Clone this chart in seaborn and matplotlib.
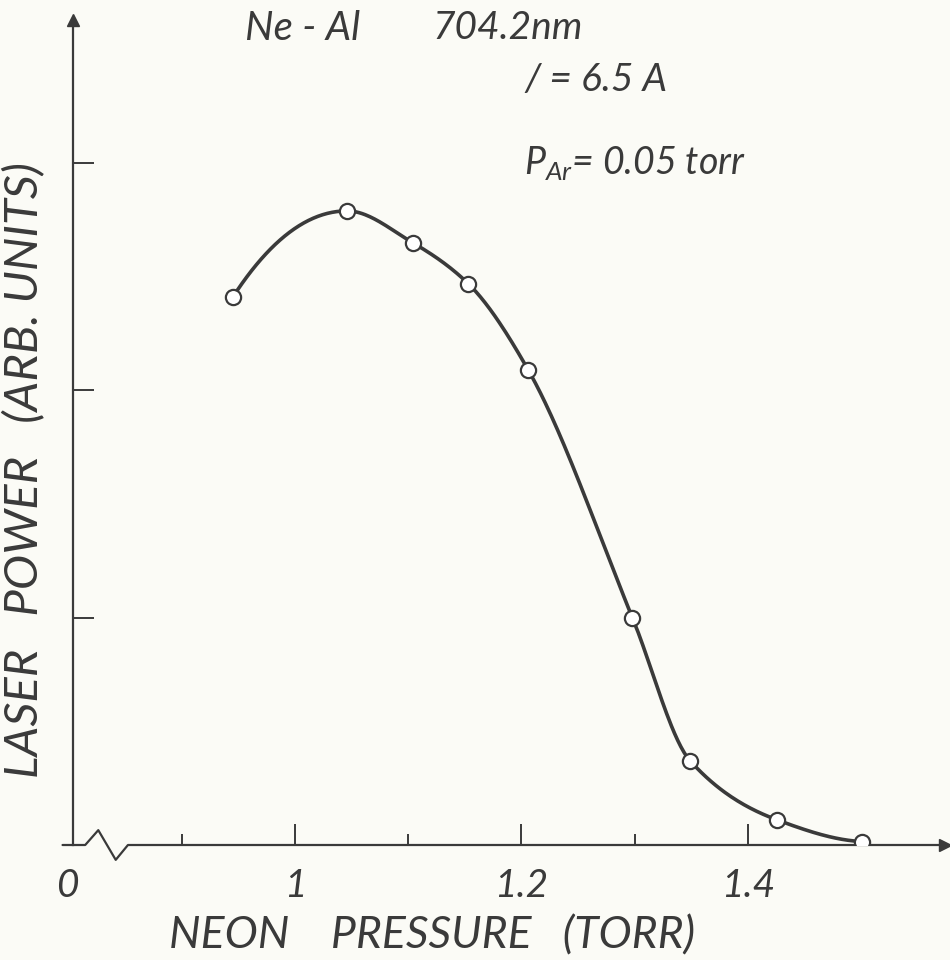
import matplotlib
matplotlib.use("Agg")
import matplotlib.pyplot as plt
import numpy as np
import seaborn as sns

# measured points (neon pressure in torr, laser power in arb. units)
PRESSURE = [0.945, 1.046, 1.104, 1.153, 1.206, 1.298, 1.349, 1.426, 1.501]
POWER    = [2.41, 2.79, 2.65, 2.47, 2.09, 1.00, 0.37, 0.11, 0.015]

XTICKS_MAJOR = [1.0, 1.2, 1.4]
XTICKS_MINOR = [0.9, 1.1, 1.3]
YTICKS       = [1, 2, 3]

INK   = "#3a3a3a"
PAPER = "#fbfbf6"

sns.set_style("white")
plt.rcParams["font.family"] = ["Lato", "DejaVu Sans"]
plt.rcParams["mathtext.fontset"] = "custom"
plt.rcParams["mathtext.it"] = "Lato:italic"
plt.rcParams["mathtext.rm"] = "Lato"


def _end_slope(h0, h1, d0, d1):
    s = ((2 * h0 + h1) * d0 - h0 * d1) / (h0 + h1)
    if np.sign(s) != np.sign(d0):
        return 0.0
    if np.sign(d0) != np.sign(d1) and abs(s) > abs(3 * d0):
        return 3 * d0
    return s


def pchip(x, y, xs):
    # shape-preserving smooth curve through the measured points
    x = np.asarray(x, float)
    y = np.asarray(y, float)
    h = np.diff(x)
    d = np.diff(y) / h
    n = len(x)
    m = np.zeros(n)
    for k in range(1, n - 1):
        if d[k - 1] * d[k] <= 0:
            m[k] = 0.0
        else:
            w1 = 2 * h[k] + h[k - 1]
            w2 = h[k] + 2 * h[k - 1]
            m[k] = (w1 + w2) / (w1 / d[k - 1] + w2 / d[k])
    m[0] = _end_slope(h[0], h[1], d[0], d[1])
    m[-1] = _end_slope(h[-1], h[-2], d[-1], d[-2])
    k = np.clip(np.searchsorted(x, xs) - 1, 0, n - 2)
    t = (xs - x[k]) / h[k]
    h00 = 2 * t**3 - 3 * t**2 + 1
    h10 = t**3 - 2 * t**2 + t
    h01 = -2 * t**3 + 3 * t**2
    h11 = t**3 - t**2
    return h00 * y[k] + h10 * h[k] * m[k] + h01 * y[k + 1] + h11 * h[k] * m[k + 1]


xs = np.linspace(PRESSURE[0], PRESSURE[-1], 400)
ys = pchip(PRESSURE, POWER, xs)

fig = plt.figure(figsize=(9.5, 9.6), dpi=100, facecolor=PAPER)
ax = fig.add_axes([73 / 950, 115 / 960, 872 / 950, 825 / 960])
ax.set_facecolor(PAPER)

sns.lineplot(x=xs, y=ys, ax=ax, color=INK, linewidth=2.6, sort=False)
sns.scatterplot(x=PRESSURE, y=POWER, ax=ax, s=120, marker="o",
                facecolor="white", edgecolor=INK, linewidth=1.6, zorder=5)

ax.set_xlim(0.804, 1.574)
ax.set_ylim(0, 3.63)

for s in ["top", "right", "bottom"]:
    ax.spines[s].set_visible(False)
ax.spines["left"].set_color(INK)
ax.spines["left"].set_linewidth(1.6)

# x axis drawn by hand with a break mark near the origin
zx = [-0.012, 0.014, 0.029, 0.049, 0.063, 1.0]
zy = [0.0, 0.0, 0.018, -0.018, 0.0, 0.0]
ax.plot(zx, zy, color=INK, lw=1.6, transform=ax.transAxes, clip_on=False)
ax.plot(1.0, 0.0, ">", color=INK, ms=9, transform=ax.transAxes, clip_on=False)
ax.plot(0.0, 1.0, "^", color=INK, ms=9, transform=ax.transAxes, clip_on=False)

ax.set_xticks(XTICKS_MAJOR)
ax.set_xticks(XTICKS_MINOR, minor=True)
ax.set_xticklabels([])
ax.set_yticks(YTICKS)
ax.set_yticklabels([])
ax.tick_params(axis="x", which="major", direction="in", length=15, width=1.4,
               color=INK, bottom=True)
ax.tick_params(axis="x", which="minor", direction="in", length=8, width=1.4,
               color=INK, bottom=True)
ax.tick_params(axis="y", direction="in", length=15, width=1.4, color=INK, left=True)

lab = dict(color=INK, fontstyle="italic", fontweight="normal")

for v, t in zip([0.799] + XTICKS_MAJOR, ["0", "1", "1.2", "1.4"]):
    ax.text(v, -0.028, t, transform=ax.get_xaxis_transform(),
            ha="center", va="top", fontsize=28, **lab)

fig.text(0.455, 0.004, "NEON    PRESSURE   (TORR)", ha="center", va="bottom",
         fontsize=32, **lab)
fig.text(0.002, 0.51, "LASER   POWER   (ARB. UNITS)", rotation=90,
         ha="left", va="center", fontsize=34, **lab)

fig.text(0.258, 0.99, "Ne - Al", ha="left", va="top", fontsize=29, **lab)
fig.text(0.455, 0.99, "704.2nm", ha="left", va="top", fontsize=28, **lab)
fig.text(0.552, 0.935, "/ = 6.5 A", ha="left", va="top", fontsize=28, **lab)
fig.text(0.552, 0.81, r"$P_{Ar}$= 0.05 torr", ha="left", va="bottom",
         fontsize=27, **lab)

fig.savefig("out.png", dpi=100, facecolor=PAPER)
